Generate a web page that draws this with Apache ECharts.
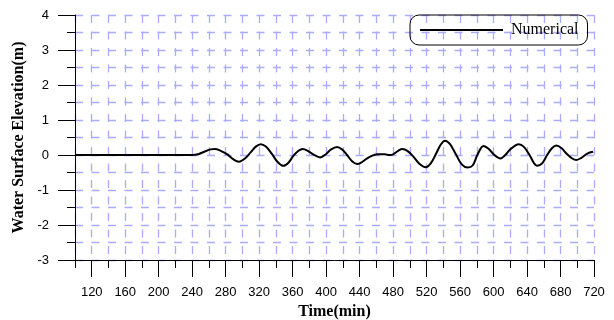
<!DOCTYPE html>
<html>
<head>
<meta charset="utf-8">
<script src="https://cdn.jsdelivr.net/npm/echarts@6/dist/echarts.min.js"></script>
<style>
  html, body { margin: 0; padding: 0; background: #fff; }
  #chart { width: 614px; height: 320px; }
</style>
</head>
<body>
<div id="chart"></div>
<script>
// Time (min) and water surface elevation (m)
const timeMin = [100, 240, 248, 255, 262, 267, 274, 282, 289, 296, 303, 310, 316, 322, 328, 335, 342, 349, 355, 361,
  367, 372, 378, 385, 393, 400, 406, 413, 419, 425, 431, 437, 443, 450, 456, 462, 470, 476, 480, 486,
  491, 497, 504, 511, 519, 525, 531, 537, 542, 548, 555, 562, 569, 575, 581, 588, 594, 601, 608, 614,
  620, 630, 636, 643, 648, 652, 658, 664, 670, 675, 681, 688, 694, 699, 705, 712, 719];
const elevation = [0, 0, 0.03, 0.10, 0.16, 0.17, 0.12, 0.02, -0.12, -0.19, -0.10, 0.08, 0.24, 0.31, 0.24, 0.04, -0.20, -0.31, -0.22, -0.02,
  0.12, 0.17, 0.12, 0.01, -0.07, 0.03, 0.16, 0.23, 0.16, 0.0, -0.18, -0.26, -0.20, -0.08, -0.01, 0.02, 0.02, 0.0, 0.02, 0.12,
  0.17, 0.12, -0.04, -0.24, -0.35, -0.24, 0.02, 0.30, 0.41, 0.31, 0.02, -0.27, -0.36, -0.30, 0.02, 0.26, 0.18, 0.0, -0.10, 0.0,
  0.16, 0.31, 0.24, 0.0, -0.22, -0.31, -0.24, 0.0, 0.20, 0.27, 0.20, 0.02, -0.10, -0.14, -0.08, 0.04, 0.09];
const xLabelTicks = [120, 160, 200, 240, 280, 320, 360, 400, 440, 480, 520, 560, 600, 640, 680, 720];
const xMinorTicks = [100, 140, 180, 220, 260, 300, 340, 380, 420, 460, 500, 540, 580, 620, 660, 700];
const yLabelTicks = [-3, -2, -1, 0, 1, 2, 3, 4];
const yMinorTicks = [-2.5, -1.5, -0.5, 0.5, 1.5, 2.5, 3.5];
const seriesName = 'Numerical';

const chart = echarts.init(document.getElementById('chart'), null, { renderer: 'canvas' });

const axisBlack = () => ({ show: true, onZero: false, lineStyle: { color: '#000', width: 1 } });
const serif = 'Liberation Serif, Times New Roman, serif';
const sans = 'Liberation Sans, Arial, sans-serif';

// tick-only axis (short ticks, no line, no labels, no grid)
const tickAxis = (extra) => Object.assign({
  type: 'value',
  axisLine: { show: false, onZero: false },
  axisLabel: { show: false },
  splitLine: { show: false }
}, extra);

// grid-only axis (dashed blue lines every step)
const gridAxis = (extra) => Object.assign({
  type: 'value',
  axisLine: { show: false, onZero: false },
  axisTick: { show: false },
  axisLabel: { show: false },
  splitLine: { show: true, lineStyle: { color: '#acacff', width: 1.3, type: [8, 8.5] } }
}, extra);

chart.setOption({
  animation: false,
  backgroundColor: '#fff',
  grid: { left: 75, right: 20, top: 15, bottom: 60, containLabel: false, outerBoundsMode: 'none' },
  legend: {
    left: 410, top: 15,
    width: 180,
    padding: [7, 9, 7, 10],
    borderColor: '#000', borderWidth: 1, borderRadius: 9,
    itemWidth: 83, itemHeight: 14, itemGap: 6,
    icon: 'path://M0,6 L83,6 L83,8 L0,8 Z',
    textStyle: { fontFamily: serif, fontSize: 16, color: '#000', padding: [0, 0, 0, 3] },
    data: [{ name: seriesName, itemStyle: { color: '#000' } }]
  },
  xAxis: [{
    type: 'value',
    min: 100, max: 720, interval: 20,
    name: 'Time(min)', nameLocation: 'middle', nameGap: 43,
    nameTextStyle: { fontFamily: serif, fontWeight: 'bold', fontSize: 16, color: '#000' },
    axisLine: axisBlack(),
    axisTick: { show: true, length: 17, customValues: xLabelTicks, lineStyle: { color: '#000' } },
    axisLabel: { customValues: xLabelTicks, margin: 26, fontFamily: sans, fontSize: 13, color: '#000' },
    splitLine: { show: false },
    z: 3
  },
  tickAxis({
    position: 'bottom', min: 100, max: 720, interval: 20,
    axisTick: { show: true, length: 8, customValues: xMinorTicks, lineStyle: { color: '#000' } }
  }),
  gridAxis({ position: 'bottom', min: 100, max: 720, interval: 20 })
  ],
  yAxis: [{
    type: 'value',
    min: -3, max: 4, interval: 0.5,
    name: 'Water Surface Elevation(m)', nameLocation: 'middle', nameGap: 47,
    nameTextStyle: { fontFamily: serif, fontWeight: 'bold', fontSize: 16, color: '#000' },
    axisLine: axisBlack(),
    axisTick: { show: true, length: 17, customValues: yLabelTicks, lineStyle: { color: '#000' } },
    axisLabel: { customValues: yLabelTicks, margin: 26, fontFamily: sans, fontSize: 13, color: '#000' },
    splitLine: { show: false },
    z: 3
  },
  tickAxis({
    position: 'left', min: -3, max: 4, interval: 0.5,
    axisTick: { show: true, length: 8, customValues: yMinorTicks, lineStyle: { color: '#000' } }
  }),
  gridAxis({ position: 'left', min: -3, max: 4, interval: 0.5 })
  ],
  series: [{
    name: seriesName,
    type: 'line',
    xAxisIndex: 0,
    yAxisIndex: 0,
    data: timeMin.map((t, i) => [t, elevation[i]]),
    smooth: 0.35,
    showSymbol: false,
    lineStyle: { color: '#000', width: 2 },
    itemStyle: { color: '#000' },
    z: 5
  }]
});
</script>
</body>
</html>
